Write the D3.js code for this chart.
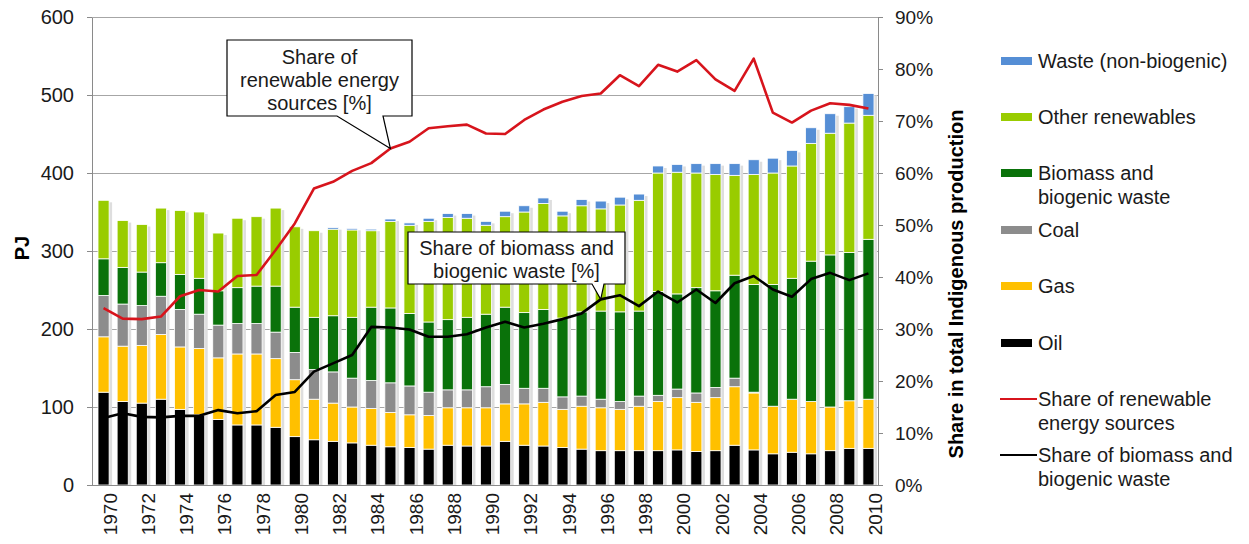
<!DOCTYPE html>
<html>
<head>
<meta charset="utf-8">
<script src="https://cdn.jsdelivr.net/npm/d3@7/dist/d3.min.js"></script>
<style>
  body { margin: 0; background: #fff; }
  svg { font-family: "Liberation Sans", Arial, sans-serif; }
</style>
</head>
<body>
<svg id="chart" width="1249" height="544"></svg>
<script>
// years 1970..2010
var years = d3.range(1970, 2011);

// PJ per source
var oil   = [119,107,105,110,97,90,84,77,77,74, 62,58,56,54,51,49,48,46,51,50, 50,56,51,50,48,46,44,44,44,44, 45,43,44,51,45,40,42,40,44,47,47];
var gas   = [71,71,74,83,80,85,79,91,91,88, 73,52,49,46,47,44,42,43,48,49, 49,48,53,56,49,55,55,53,57,63, 67,63,68,75,73,61,68,67,56,61,63];
var coal  = [53,54,51,49,48,44,42,39,39,34, 35,38,40,37,36,38,37,30,23,23, 27,25,20,18,16,13,11,10,13,8, 11,12,13,11,1,0,0,0,0,0,0];
var bio   = [47,47,43,43,45,46,44,46,48,59, 58,67,72,78,94,96,93,90,90,93, 93,99,97,101,101,108,113,115,109,133, 122,135,124,132,138,156,155,180,195,190,205];
var other = [75,60,61,70,82,85,74,89,89,100, 103,111,111,112,98,111,113,129,131,127, 114,116,129,136,131,136,131,137,142,152, 156,147,149,128,141,143,144,151,156,166,159];
var waste = [0,0,0,0,0,0,0,0,0,0, 0,0,2,2,2,3,3,4,5,6, 5,7,8,7,6,8,10,10,8,9, 10,12,14,15,19,19,20,20,25,21,28];

// shares in %
var shareRen = [34,32,31.9,32.4,36.3,37.5,37.2,40.2,40.4,45.2, 50.3,57,58.3,60.4,61.9,64.7,66,68.6,69,69.3, 67.6,67.5,70.2,72.2,73.7,74.8,75.3,78.8,76.7,80.8, 79.5,81.7,78,75.8,82,71.6,69.7,72,73.4,73.1,72.4];
var shareBio = [12.9,13.8,13.1,13,13.3,13.3,14.4,13.8,14.2,17.3, 17.9,21.8,23.4,25,30.4,30.3,29.9,28.5,28.5,29, 30.3,31.4,30.3,31,31.9,33,35.7,36.5,34.4,37.2, 35.1,37.6,35,38.8,40.2,37.6,36.2,39.6,40.8,39.4,40.7];

var leftTicks = [0,100,200,300,400,500,600];
var rightTicks = [0,10,20,30,40,50,60,70,80,90];

var series = [
  {key: "oil",   name: ["Oil"], color: "#000000", values: oil},
  {key: "gas",   name: ["Gas"], color: "#ffc000", values: gas},
  {key: "coal",  name: ["Coal"], color: "#8c8c8c", values: coal},
  {key: "bio",   name: ["Biomass and", "biogenic waste"], color: "#0a720a", values: bio},
  {key: "other", name: ["Other renewables"], color: "#99cc00", values: other},
  {key: "waste", name: ["Waste (non-biogenic)"], color: "#558ed5", values: waste}
];

var table = years.map(function(yr, i) {
  var row = {year: yr};
  series.forEach(function(s) { row[s.key] = s.values[i]; });
  return row;
});

var svg = d3.select("#chart");
var L = 92, R = 878, T = 17, B = 485;

var x = d3.scaleBand().domain(years).range([94, 878]).paddingInner(0.42).paddingOuter(0.21);
var y = d3.scaleLinear().domain([0, 600]).range([B, T]);
var yR = d3.scaleLinear().domain([0, 90]).range([B, T]);

// grid
svg.append("g").selectAll("line").data(leftTicks.slice(1)).join("line")
  .attr("x1", L).attr("x2", R)
  .attr("y1", function(d) { return y(d) + 0.5; }).attr("y2", function(d) { return y(d) + 0.5; })
  .attr("stroke", "#a6a6a6").attr("stroke-width", 1);

// bars
var stack = d3.stack().keys(series.map(function(s) { return s.key; }))(table);
var bw = x.bandwidth();

// light shadow beside each bar
svg.append("g").selectAll("rect").data(table).join("rect")
  .attr("x", function(d) { return x(d.year) + bw; })
  .attr("width", 3)
  .attr("y", function(d, i) { return y(stack[stack.length - 1][i][1]) + 2; })
  .attr("height", function(d, i) { return B - y(stack[stack.length - 1][i][1]) - 2; })
  .attr("fill", "#dedede");

svg.append("g").selectAll("g").data(stack).join("g")
  .attr("fill", function(d, i) { return series[i].color; })
  .selectAll("rect").data(function(d) { return d; }).join("rect")
  .attr("x", function(d) { return x(d.data.year); })
  .attr("width", bw)
  .attr("y", function(d) { return y(d[1]); })
  .attr("height", function(d) { return Math.max(0, y(d[0]) - y(d[1])); })
  .attr("stroke", "#ffffff").attr("stroke-width", 0.8);

// lines
var cx = function(i) { return x(years[i]) + bw / 2; };
var lineGen = d3.line().x(function(d, i) { return cx(i); }).y(function(d) { return yR(d); });

svg.append("path").datum(shareRen).attr("d", lineGen)
  .attr("fill", "none").attr("stroke", "#d7141c").attr("stroke-width", 2.6).attr("stroke-linejoin", "round");
svg.append("path").datum(shareBio).attr("d", lineGen)
  .attr("fill", "none").attr("stroke", "#000").attr("stroke-width", 2.6).attr("stroke-linejoin", "round");

// callouts
function callout(box, a1, a2, tip, lines, lineY) {
  var p = d3.path();
  p.moveTo(box.x0, box.y0);
  p.lineTo(box.x1, box.y0);
  p.lineTo(box.x1, box.y1);
  p.lineTo(a2, box.y1);
  p.lineTo(tip[0], tip[1]);
  p.lineTo(a1, box.y1);
  p.lineTo(box.x0, box.y1);
  p.closePath();
  svg.append("path").attr("d", p.toString())
    .attr("fill", "#fff").attr("stroke", "#000").attr("stroke-width", 1.2);
  var t = svg.append("text").attr("text-anchor", "middle").attr("font-size", 20).attr("fill", "#1a1a1a");
  lines.forEach(function(s, k) {
    t.append("tspan").attr("x", (box.x0 + box.x1) / 2).attr("y", lineY[k]).text(s);
  });
}
var i85 = years.indexOf(1985), i96 = years.indexOf(1996);
callout({x0: 227, y0: 40, x1: 412, y1: 116}, 337, 383, [cx(i85), yR(shareRen[i85])],
  ["Share of", "renewable energy", "sources [%]"], [64, 87, 110]);
callout({x0: 408, y0: 232, x1: 625, y1: 284}, 592, 604, [cx(i96), yR(shareBio[i96])],
  ["Share of biomass and", "biogenic waste [%]"], [255, 278]);

// axes
var axL = svg.append("g").attr("transform", "translate(" + L + ",0)")
  .call(d3.axisLeft(y).tickValues(leftTicks).tickSize(5).tickPadding(13));
axL.selectAll("text").attr("font-size", 20).attr("fill", "#1a1a1a").attr("font-family", null);

var axR = svg.append("g").attr("transform", "translate(" + R + ",0)")
  .call(d3.axisRight(yR).tickValues(rightTicks).tickSize(5).tickPadding(12).tickFormat(function(d) { return d + "%"; }));
axR.selectAll("text").attr("font-size", 19).attr("fill", "#1a1a1a").attr("font-family", null);

var axB = svg.append("g").attr("transform", "translate(0," + B + ")")
  .call(d3.axisBottom(x).tickValues(years.filter(function(d) { return d % 2 === 0; })).tickSize(0).tickPadding(0));
axB.select(".domain").attr("d", "M" + L + ",0.5H" + R);
axB.selectAll("text")
  .attr("font-size", 19).attr("fill", "#1a1a1a").attr("font-family", null)
  .attr("text-anchor", "end")
  .attr("transform", "translate(" + (bw / 2 + 1) + ",8) rotate(-90)")
  .attr("dy", "0.35em").attr("y", 0);

[axL, axR, axB].forEach(function(a) {
  a.selectAll(".domain, line").attr("stroke", "#8a8a8a");
});
// top border
svg.append("line").attr("x1", L).attr("x2", R).attr("y1", T + 0.5).attr("y2", T + 0.5).attr("stroke", "#a6a6a6");

// axis titles
svg.append("text").attr("transform", "translate(29,248) rotate(-90)")
  .attr("text-anchor", "middle").attr("font-size", 20).attr("font-weight", "bold").text("PJ");
svg.append("text").attr("transform", "translate(963,284) rotate(-90)")
  .attr("text-anchor", "middle").attr("font-size", 20).attr("font-weight", "bold")
  .text("Share in total Indigenous production");

// legend
var legendItems = [
  {s: series[5], y: [61]},
  {s: series[4], y: [117]},
  {s: series[3], y: [173, 197]},
  {s: series[2], y: [230]},
  {s: series[1], y: [286]},
  {s: series[0], y: [343]}
];
var lg = svg.append("g");
legendItems.forEach(function(it) {
  lg.append("rect").attr("x", 1001).attr("y", it.y[0] - 4).attr("width", 31).attr("height", 8).attr("fill", it.s.color);
  var t = lg.append("text").attr("font-size", 20).attr("fill", "#1a1a1a");
  it.s.name.forEach(function(n, k) {
    t.append("tspan").attr("x", 1038).attr("y", it.y[k]).attr("dy", "0.35em").text(n);
  });
});
var lineLegend = [
  {color: "#d7141c", name: ["Share of renewable", "energy sources"], y: [399, 423]},
  {color: "#000", name: ["Share of biomass and", "biogenic waste"], y: [455, 479]}
];
lineLegend.forEach(function(it) {
  lg.append("line").attr("x1", 1000).attr("x2", 1037).attr("y1", it.y[0]).attr("y2", it.y[0])
    .attr("stroke", it.color).attr("stroke-width", 2);
  var t = lg.append("text").attr("font-size", 20).attr("fill", "#1a1a1a");
  it.name.forEach(function(n, k) {
    t.append("tspan").attr("x", 1038).attr("y", it.y[k]).attr("dy", "0.35em").text(n);
  });
});
</script>
</body>
</html>
